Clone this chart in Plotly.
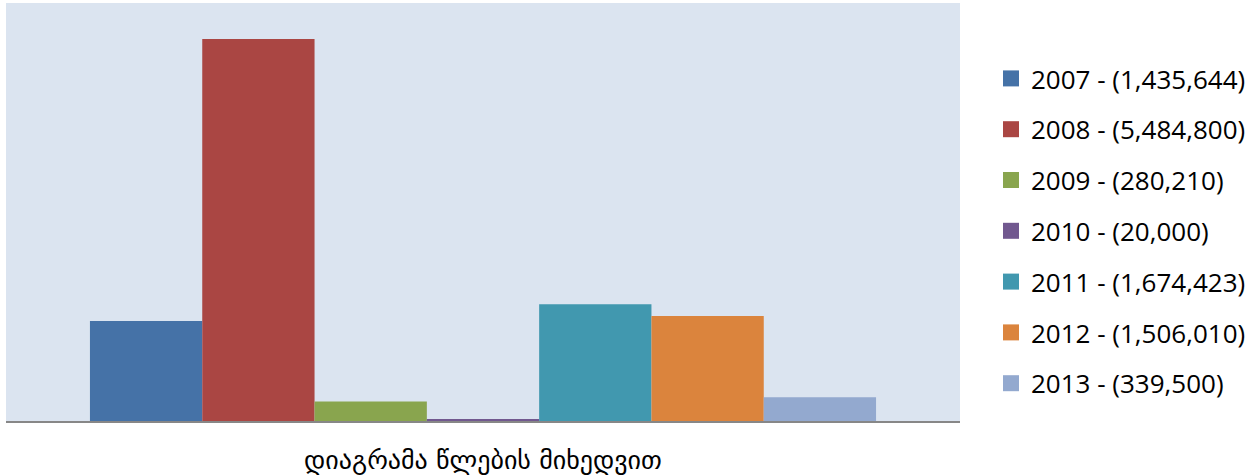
import plotly.graph_objects as go

years = ["2007", "2008", "2009", "2010", "2011", "2012", "2013"]
values = [1435644, 5484800, 280210, 20000, 1674423, 1506010, 339500]
colors = ["#4572A7", "#AA4643", "#89A54E", "#71588F", "#4198AF", "#DB843D", "#93A9CF"]
category = ["დიაგრამა წლების მიხედვით"]
axis_title = "დიაგრამა წლების მიხედვით"

fig = go.Figure()
for yr, v, c in zip(years, values, colors):
    fig.add_trace(go.Bar(x=category, y=[v], marker=dict(color=c, line=dict(width=0)),
                         showlegend=False, legendgroup=yr))
for yr, v, c in zip(years, values, colors):
    fig.add_trace(go.Scatter(x=[None], y=[None], mode="markers",
                             marker=dict(symbol="square", size=16, color=c),
                             name=f"{yr} - ({v:,})", legendgroup=yr, showlegend=True))

fig.update_layout(
    width=1256, height=476,
    margin=dict(l=6, r=296, t=3, b=55),
    paper_bgcolor="white",
    plot_bgcolor="#DBE4F0",
    barmode="group",
    bargap=0.176,
    bargroupgap=0,
    font=dict(family="Open Sans", color="black"),
    legend=dict(
        xref="paper", yref="paper",
        x=(991 - 6) / 954, y=1 - (231 - 3) / 418, xanchor="left", yanchor="middle",
        font=dict(family="Open Sans", size=26, color="black"),
        itemsizing="trace",
        tracegroupgap=14,
        bgcolor="rgba(0,0,0,0)",
    ),
    xaxis=dict(
        showticklabels=False, ticks="", showgrid=False, zeroline=False,
        showline=True, linecolor="#878787", linewidth=2,
        title=dict(text=axis_title, font=dict(family="DejaVu Sans", size=26, color="black"), standoff=29),
    ),
    yaxis=dict(range=[0, 6000000], visible=False, showgrid=False, zeroline=False),
)

fig.write_html("out.html", config={"displayModeBar": False},
               post_script="document.body.style.margin='0';")
